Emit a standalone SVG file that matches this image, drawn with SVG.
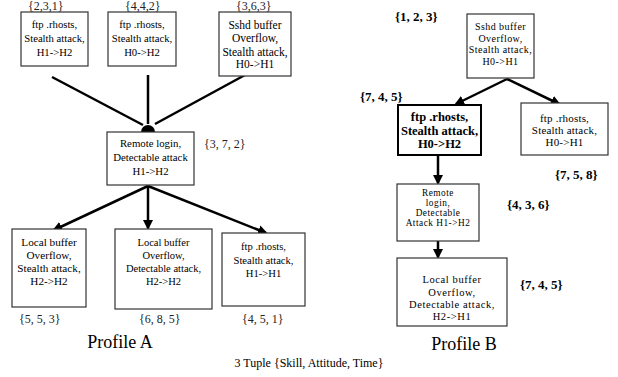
<svg xmlns="http://www.w3.org/2000/svg" width="618" height="377" viewBox="0 0 618 377" font-family="'Liberation Serif', 'Times New Roman', 'DejaVu Serif', serif">
<style>
text{font-family:'Liberation Serif','Times New Roman','DejaVu Serif',serif;fill:#000;text-anchor:middle}
.lab{font-size:12px;text-anchor:start;fill:#222;letter-spacing:0}
.labb{font-size:13px;font-weight:bold;text-anchor:start;letter-spacing:0}
.box{fill:#fff;stroke:#333;stroke-width:1.2}
.bbox{fill:#fff;stroke:#000;stroke-width:2}
.e{stroke:#000;stroke-width:2.5;fill:none}
.t{font-size:18px}
</style>
<defs>
<marker id="ah" markerWidth="10" markerHeight="10" refX="8" refY="5" orient="auto" markerUnits="userSpaceOnUse">
<path d="M0,0 L10,5 L0,10 Z" fill="#000"/>
</marker>
</defs>
<g id="connectors">
<line class="e" x1="52" y1="77" x2="143" y2="125"/>
<line class="e" x1="148" y1="75" x2="148" y2="124"/>
<line class="e" x1="245" y1="75" x2="155" y2="124"/>
<path d="M141,132 A7,7 0 0 1 155,132 Z" fill="#000"/>
<line class="e" x1="148" y1="186" x2="54" y2="230" marker-end="url(#ah)"/>
<line class="e" x1="148" y1="186" x2="148" y2="228" marker-end="url(#ah)"/>
<line class="e" x1="148" y1="186" x2="266" y2="233" marker-end="url(#ah)"/>
<line class="e" x1="507" y1="79" x2="456" y2="104" marker-end="url(#ah)"/>
<line class="e" x1="507" y1="79" x2="559" y2="104" marker-end="url(#ah)"/>
<line class="e" x1="438" y1="155" x2="438" y2="183" marker-end="url(#ah)"/>
<line class="e" x1="438" y1="241" x2="438" y2="257" marker-end="url(#ah)"/>
</g>
<g id="a1" font-size="10.7">
<rect class="box" x="21" y="12" width="67" height="54"/>
<text x="54.5" y="28">ftp .rhosts,</text>
<text x="54.5" y="42">Stealth attack,</text>
<text x="54.5" y="56">H1-&gt;H2</text>
<text class="lab" x="28" y="10">{2,3,1}</text>
</g>
<g id="a2" font-size="10.7">
<rect class="box" x="108" y="12" width="68" height="54"/>
<text x="142" y="28">ftp .rhosts,</text>
<text x="142" y="42">Stealth attack,</text>
<text x="142" y="56">H0-&gt;H2</text>
<text class="lab" x="125" y="10">{4,4,2}</text>
</g>
<g id="a3" font-size="11.5">
<rect class="box" x="219" y="12" width="72" height="64"/>
<text x="255" y="29">Sshd buffer</text>
<text x="255" y="42">Overflow,</text>
<text x="255" y="56">Stealth attack,</text>
<text x="255" y="68">H0-&gt;H1</text>
<text class="lab" x="236" y="10">{3,6,3}</text>
</g>
<g id="a4" font-size="10.8">
<rect class="box" x="107" y="132" width="87" height="53"/>
<text x="150.5" y="147">Remote login,</text>
<text x="150.5" y="161">Detectable attack</text>
<text x="150.5" y="175">H1-&gt;H2</text>
<text class="lab" x="204" y="148">{3, 7, 2}</text>
</g>
<g id="a5" font-size="11.2">
<rect class="box" x="12" y="229" width="74" height="78"/>
<text x="49" y="246">Local  buffer</text>
<text x="49" y="259">Overflow,</text>
<text x="49" y="272">Stealth attack,</text>
<text x="49" y="285">H2-&gt;H2</text>
<text class="lab" x="19" y="323">{5, 5, 3}</text>
</g>
<g id="a6" font-size="10.5">
<rect class="box" x="115" y="229" width="97" height="80"/>
<text x="163.5" y="246">Local buffer</text>
<text x="163.5" y="259">Overflow,</text>
<text x="163.5" y="272">Detectable attack,</text>
<text x="163.5" y="285">H2-&gt;H2</text>
<text class="lab" x="139" y="323">{6, 8, 5}</text>
</g>
<g id="a7" font-size="10.6">
<rect class="box" x="222" y="233" width="83" height="73"/>
<text x="263.5" y="250">ftp .rhosts,</text>
<text x="263.5" y="264">Stealth attack,</text>
<text x="263.5" y="277">H1-&gt;H1</text>
<text class="lab" x="242" y="323">{4, 5, 1}</text>
</g>
<g id="b1" font-size="10" letter-spacing="0.45">
<rect class="box" x="467" y="14" width="67" height="64"/>
<text x="500.5" y="30">Sshd buffer</text>
<text x="500.5" y="41.5">Overflow,</text>
<text x="500.5" y="53">Stealth attack,</text>
<text x="500.5" y="64.5">H0-&gt;H1</text>
<text class="labb" x="395" y="21">{1, 2, 3}</text>
</g>
<g id="b2" font-size="12.5" font-weight="bold">
<rect class="bbox" x="398" y="105" width="83" height="50"/>
<text x="439.5" y="121">ftp .rhosts,</text>
<text x="439.5" y="135">Stealth attack,</text>
<text x="439.5" y="148">H0-&gt;H2</text>
<text class="labb" x="360" y="101">{7, 4, 5}</text>
</g>
<g id="b3" font-size="11" letter-spacing="0.2">
<rect class="box" x="521" y="103" width="87" height="52"/>
<text x="564.5" y="122">ftp .rhosts,</text>
<text x="564.5" y="134">Stealth attack,</text>
<text x="564.5" y="146">H0-&gt;H1</text>
<text class="labb" x="555" y="179">{7, 5, 8}</text>
</g>
<g id="b4" font-size="9.3" letter-spacing="0.5">
<rect class="box" x="397" y="184" width="82" height="57"/>
<text x="438" y="195.5">Remote</text>
<text x="438" y="205.5">login,</text>
<text x="438" y="215.5">Detectable</text>
<text x="438" y="225.5">Attack H1-&gt;H2</text>
<text class="labb" x="507" y="209">{4, 3, 6}</text>
</g>
<g id="b5" font-size="10.5" letter-spacing="0.6">
<rect class="box" x="397" y="258" width="110" height="68"/>
<text x="452" y="283">Local buffer</text>
<text x="452" y="295.5">Overflow,</text>
<text x="452" y="308">Detectable attack,</text>
<text x="452" y="320">H2-&gt;H1</text>
<text class="labb" x="520" y="289">{7, 4, 5}</text>
</g>
<text class="t" x="120" y="348">Profile A</text>
<text class="t" x="464" y="350">Profile B</text>
<text x="309" y="367" style="font-size:12px">3 Tuple {Skill, Attitude, Time}</text>
</svg>
